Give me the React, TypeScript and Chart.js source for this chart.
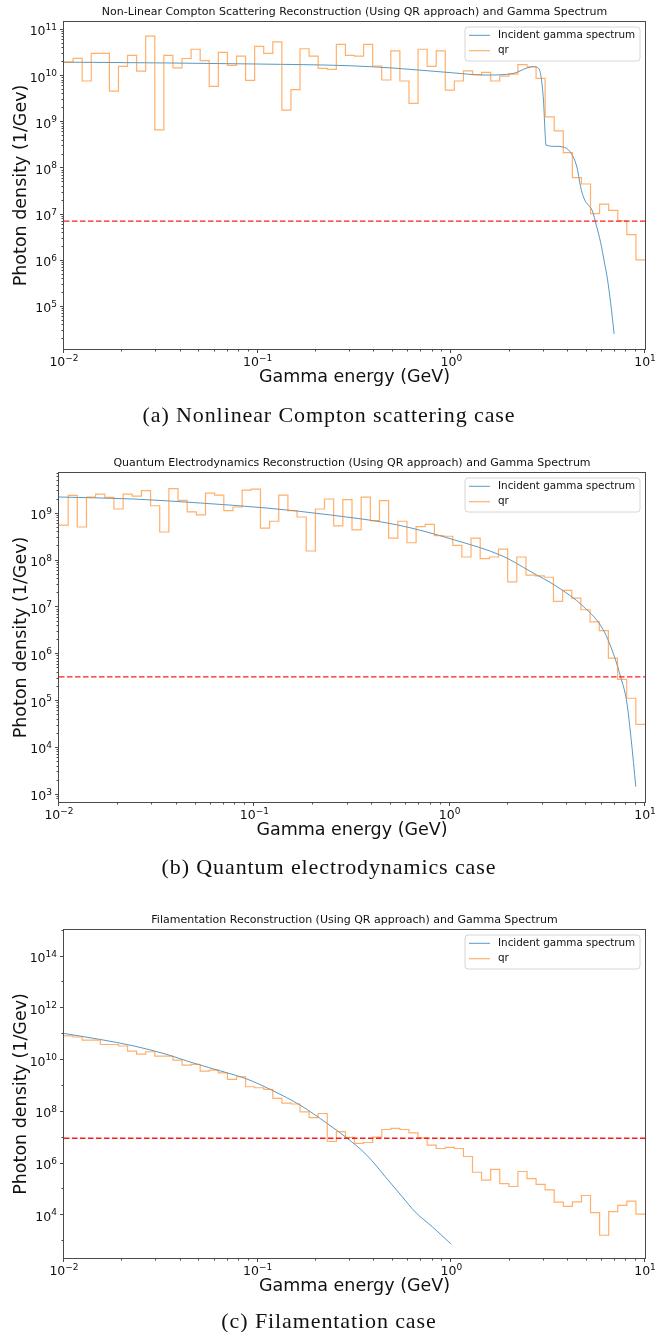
import React, { useEffect, useRef } from "react";
import { Chart, registerables } from "chart.js";

Chart.register(...registerables);

// ---------- shared axis definition ----------
const ENERGY_MIN = 0.01;
const ENERGY_MAX = 10;
const BIN_COUNT = 64;
const X_TICK_EXPONENTS = [-2, -1, 0, 1];

const LABEL_X = "Gamma energy (GeV)";
const LABEL_Y = "Photon density (1/Gev)";
const LEGEND_SPECTRUM = "Incident gamma spectrum";
const LEGEND_QR = "qr";

// ---------- (a) Nonlinear Compton scattering ----------
const titleCompton = "Non-Linear Compton Scattering Reconstruction (Using QR approach) and Gamma Spectrum";
const captionCompton = "(a) Nonlinear Compton scattering case";
const qrCompton = [
  1.98e10, 2.42e10, 7.8e9, 3.1e10, 3.1e10, 4.7e9, 1.62e10, 2.8e10, 1.28e10, 7.3e10,
  6.8e8, 2.8e10, 1.5e10, 2.4e10, 3.8e10, 2.15e10, 5.96e9, 3.25e10, 1.7e10, 2.7e10,
  8.05e9, 4.4e10, 3.1e10, 5.5e10, 1.82e9, 5.1e9, 3.9e10, 2.7e10, 1.47e10, 1.4e10,
  4.87e10, 2.8e10, 2.7e10, 4.87e10, 1.65e10, 8.2e9, 3.5e10, 7.8e9, 2.55e9, 3.8e10,
  1.62e10, 3.5e10, 4.97e9, 7.8e9, 1.3e10, 1.07e10, 1.2e10, 7.8e9, 1.0e10, 1.1e10,
  1.76e10, 1.59e10, 8.9e9, 1.3e9, 6.5e8, 2.2e8, 6.3e7, 4.6e7, 1.05e7, 1.68e7,
  1.24e7, 7.3e6, 3.7e6, 1.05e6,
];
const spectrumComptonEnergy = [
  0.01, 0.034, 0.1, 0.3, 0.5, 1.0, 1.5, 2.09, 2.45, 2.65, 2.76, 2.87, 2.99, 3.05, 3.08,
  3.5, 3.78, 4.1, 4.45, 4.65, 4.85, 5.1, 5.35, 5.6, 5.9, 6.15, 6.4, 6.65, 6.93,
];
const spectrumComptonDensity = [
  2.0e10, 1.92e10, 1.82e10, 1.67e10, 1.49e10, 1.18e10, 1.05e10, 1.14e10, 1.49e10, 1.6e10, 1.55e10, 1.25e10, 3.0e9, 5.6e8, 3.2e8,
  3.0e8, 2.9e8, 2.3e8, 1.07e8, 4.0e7, 2.2e7, 1.6e7, 1.2e7, 6.0e6, 2.5e6, 1.0e6, 4.0e5, 1.2e5, 2.6e4,
];
const thresholdCompton = 7.2e6;
const yExpCompton = [5, 6, 7, 8, 9, 10, 11];

// ---------- (b) Quantum electrodynamics ----------
const titleQed = "Quantum Electrodynamics Reconstruction (Using QR approach) and Gamma Spectrum";
const captionQed = "(b) Quantum electrodynamics case";
const qrQed = [
  5.7e8, 2.46e9, 5.2e8, 2.27e9, 2.63e9, 2.23e9, 1.26e9, 2.63e9, 2.38e9, 3.1e9,
  1.48e9, 4.07e8, 3.42e9, 1.93e9, 1.09e9, 9.4e8, 2.76e9, 2.5e9, 1.16e9, 1.39e9,
  3.2e9, 3.36e9, 4.9e8, 6.9e8, 2.5e9, 1.16e9, 8.5e8, 1.6e8, 1.26e9, 2.06e9,
  5.5e8, 2.0e9, 4.5e8, 2.27e9, 7.1e8, 1.9e9, 3.0e8, 6.9e8, 2.4e8, 5.3e8,
  5.9e8, 3.4e8, 3.3e8, 2.1e8, 1.19e8, 3.0e8, 1.1e8, 1.19e8, 1.76e8, 3.5e7,
  1.19e8, 4.9e7, 4.7e7, 4.4e7, 1.34e7, 2.3e7, 1.58e7, 8.9e6, 4.9e6, 3.2e6,
  8.3e5, 2.9e5, 1.15e5, 3.2e4,
];
const spectrumQedEnergy = [
  0.01, 0.024, 0.053, 0.116, 0.245, 0.536, 1.045, 1.88, 2.58, 3.53, 4.83, 6.12, 7.0, 7.5, 8.05, 8.5, 8.97,
];
const spectrumQedDensity = [
  2.27e9, 2.06e9, 1.69e9, 1.32e9, 9.4e8, 5.8e8, 2.8e8, 1.23e8, 5.9e7, 2.8e7, 1.05e7, 3.3e6, 8.5e5, 3.3e5, 1.0e5, 1.5e4, 1.5e3,
];
const thresholdQed = 3.3e5;
const yExpQed = [3, 4, 5, 6, 7, 8, 9];

// ---------- (c) Filamentation ----------
const titleFil = "Filamentation Reconstruction (Using QR approach) and Gamma Spectrum";
const captionFil = "(c) Filamentation case";
const qrFil = [
  8.7e10, 7.8e10, 5.9e10, 5.9e10, 4.0e10, 4.0e10, 3.5e10, 2.2e10, 1.7e10, 2.1e10,
  1.43e10, 1.43e10, 1.0e10, 6.4e9, 6.8e9, 3.75e9, 4.1e9, 3.2e9, 1.79e9, 2.27e9,
  9.3e8, 8.5e8, 7.3e8, 3.3e8, 2.16e8, 2.0e8, 1.0e8, 6.0e7, 8.6e7, 7.1e6,
  1.7e7, 1.02e7, 6.0e6, 6.5e6, 1.05e7, 2.07e7, 2.27e7, 2.07e7, 1.53e7, 9.8e6,
  5.1e6, 3.8e6, 4.2e6, 3.8e6, 1.87e6, 4.6e5, 2.26e5, 5.9e5, 1.68e5, 1.29e5,
  4.9e5, 2.6e5, 1.55e5, 9.6e4, 3.2e4, 2.2e4, 3.3e4, 5.8e4, 1.26e4, 1.68e3,
  1.38e4, 2.4e4, 3.5e4, 1.1e4,
];
const spectrumFilEnergy = [
  0.01, 0.0153, 0.0228, 0.034, 0.0448, 0.0696, 0.0865, 0.12, 0.166, 0.229, 0.284, 0.366, 0.469, 0.56, 0.65, 0.8, 1.0,
];
const spectrumFilDensity = [
  1.07e11, 6.3e10, 3.55e10, 1.65e10, 8.4e9, 3.2e9, 1.95e9, 6.5e8, 1.8e8, 3.5e7, 1.07e7, 2.1e6, 2.4e5, 5.0e4, 1.35e4, 3.5e3, 7.5e2,
];
const thresholdFil = 9.5e6;
const yExpFil = [4, 6, 8, 10, 12, 14];

// ---------- styling ----------
const FONT = '"DejaVu Sans", Verdana, sans-serif';
const BLUE = "rgba(31,119,180,0.75)";
const ORANGE = "rgba(255,127,14,0.62)";
const RED = "#ff1a1a";
const AXIS = "#4a4a4a";
const TEXT = "#111";
const PAGE_W = 658;
const TICK_SIZE = 12.5;
const SUP_SIZE = 9;
const SUP_RAISE = 5.5;

type Panel = {
  top: number;
  height: number;
  plot: { left: number; right: number; top: number; bottom: number };
  yMin: number;
  yMax: number;
  yExp: number[];
  yMinorSubs: boolean;
  title: string;
  caption: string;
  captionY: number;
  qr: number[];
  specE: number[];
  specV: number[];
  threshold: number;
};

const panels: Panel[] = [
  {
    top: 0, height: 425,
    plot: { left: 64, right: 645, top: 22, bottom: 349 },
    yMin: Math.pow(10, 4.09), yMax: Math.pow(10, 11.17),
    yExp: yExpCompton, yMinorSubs: true,
    title: titleCompton, caption: captionCompton, captionY: 415,
    qr: qrCompton, specE: spectrumComptonEnergy, specV: spectrumComptonDensity, threshold: thresholdCompton,
  },
  {
    top: 430, height: 425,
    plot: { left: 59, right: 645, top: 43, bottom: 372 },
    yMin: Math.pow(10, 2.846), yMax: Math.pow(10, 9.869),
    yExp: yExpQed, yMinorSubs: true,
    title: titleQed, caption: captionQed, captionY: 867,
    qr: qrQed, specE: spectrumQedEnergy, specV: spectrumQedDensity, threshold: thresholdQed,
  },
  {
    top: 880, height: 425,
    plot: { left: 64, right: 645, top: 50, bottom: 378 },
    yMin: Math.pow(10, 2.346), yMax: Math.pow(10, 15.03),
    yExp: yExpFil, yMinorSubs: false,
    title: titleFil, caption: captionFil, captionY: 1321,
    qr: qrFil, specE: spectrumFilEnergy, specV: spectrumFilDensity, threshold: thresholdFil,
  },
];

function drawPow(ctx: CanvasRenderingContext2D, exp: number, x: number, baseY: number, align: "center" | "right") {
  const base = "10";
  const sup = exp < 0 ? "\u2212" + Math.abs(exp) : String(exp);
  ctx.font = `${TICK_SIZE}px ${FONT}`;
  const wb = ctx.measureText(base).width;
  ctx.font = `${SUP_SIZE}px ${FONT}`;
  const ws = ctx.measureText(sup).width;
  const total = wb + ws;
  const x0 = align === "center" ? x - total / 2 : x - total;
  ctx.textAlign = "left";
  ctx.textBaseline = "alphabetic";
  ctx.font = `${TICK_SIZE}px ${FONT}`;
  ctx.fillText(base, x0, baseY);
  ctx.font = `${SUP_SIZE}px ${FONT}`;
  ctx.fillText(sup, x0 + wb, baseY - SUP_RAISE);
}

function decorPlugin(p: Panel) {
  return {
    id: "mplDecor",
    afterDraw(chart: any) {
      const ctx: CanvasRenderingContext2D = chart.ctx;
      const a = chart.chartArea;
      const xs = chart.scales.x;
      const ys = chart.scales.y;
      ctx.save();
      ctx.strokeStyle = AXIS;
      ctx.fillStyle = TEXT;
      ctx.lineWidth = 1;
      // spines
      ctx.strokeRect(a.left - 0.5, a.top - 0.5, a.right - a.left + 1, a.bottom - a.top + 1);
      // x ticks
      ctx.beginPath();
      for (let e = -2; e <= 1; e++) {
        const px = Math.round(xs.getPixelForValue(Math.pow(10, e))) - 0.5;
        ctx.moveTo(px, a.bottom);
        ctx.lineTo(px, a.bottom + 4);
        if (e < 1) {
          for (let m = 2; m <= 9; m++) {
            const q = Math.round(xs.getPixelForValue(m * Math.pow(10, e))) - 0.5;
            ctx.moveTo(q, a.bottom);
            ctx.lineTo(q, a.bottom + 2.5);
          }
        }
      }
      // y ticks
      const lo = Math.floor(Math.log10(p.yMin));
      const hi = Math.ceil(Math.log10(p.yMax));
      for (let e = lo; e <= hi; e++) {
        const v = Math.pow(10, e);
        const major = p.yExp.indexOf(e) >= 0;
        if (v >= p.yMin && v <= p.yMax) {
          const py = Math.round(ys.getPixelForValue(v)) - 0.5;
          ctx.moveTo(a.left, py);
          ctx.lineTo(a.left - (major ? 4 : 2.5), py);
        }
        if (p.yMinorSubs) {
          for (let m = 2; m <= 9; m++) {
            const mv = m * v;
            if (mv < p.yMin || mv > p.yMax) continue;
            const q = Math.round(ys.getPixelForValue(mv)) - 0.5;
            ctx.moveTo(a.left, q);
            ctx.lineTo(a.left - 2.5, q);
          }
        }
      }
      ctx.stroke();
      // tick labels
      for (const e of X_TICK_EXPONENTS) {
        drawPow(ctx, e, xs.getPixelForValue(Math.pow(10, e)), a.bottom + 17, "center");
      }
      for (const e of p.yExp) {
        drawPow(ctx, e, a.left - 7, ys.getPixelForValue(Math.pow(10, e)) + 5.5, "right");
      }
      // title
      ctx.textAlign = "center";
      ctx.textBaseline = "middle";
      ctx.font = `11px ${FONT}`;
      ctx.fillText(p.title, (a.left + a.right) / 2, a.top - 9.5);
      // axis labels
      ctx.font = `17.5px ${FONT}`;
      ctx.fillText(LABEL_X, (a.left + a.right) / 2, a.bottom + 28);
      ctx.save();
      ctx.translate(21, (a.top + a.bottom) / 2);
      ctx.rotate(-Math.PI / 2);
      ctx.fillText(LABEL_Y, 0, 0);
      ctx.restore();
      // legend
      const lx = a.right - 180;
      const ly = a.top + 5;
      const lw = 175;
      const lh = 34;
      const r = 3;
      ctx.beginPath();
      ctx.moveTo(lx + r, ly);
      ctx.arcTo(lx + lw, ly, lx + lw, ly + lh, r);
      ctx.arcTo(lx + lw, ly + lh, lx, ly + lh, r);
      ctx.arcTo(lx, ly + lh, lx, ly, r);
      ctx.arcTo(lx, ly, lx + lw, ly, r);
      ctx.closePath();
      ctx.fillStyle = "rgba(255,255,255,0.8)";
      ctx.fill();
      ctx.strokeStyle = "#d6d6d6";
      ctx.stroke();
      const entries = [
        { label: LEGEND_SPECTRUM, color: BLUE, w: 1, y: ly + 8.3 },
        { label: LEGEND_QR, color: ORANGE, w: 1.2, y: ly + 23.7 },
      ];
      ctx.font = `10.4px ${FONT}`;
      ctx.textAlign = "left";
      ctx.textBaseline = "middle";
      for (const en of entries) {
        ctx.strokeStyle = en.color;
        ctx.lineWidth = en.w;
        ctx.beginPath();
        ctx.moveTo(lx + 4, en.y);
        ctx.lineTo(lx + 25, en.y);
        ctx.stroke();
        ctx.fillStyle = TEXT;
        ctx.fillText(en.label, lx + 33, en.y);
      }
      ctx.restore();
    },
  };
}

function SpectrumPanel({ p }: { p: Panel }) {
  const ref = useRef<HTMLCanvasElement | null>(null);
  useEffect(() => {
    const canvas = ref.current;
    if (!canvas) return;
    const edges = Array.from({ length: BIN_COUNT + 1 }, (_, k) =>
      ENERGY_MIN * Math.pow(ENERGY_MAX / ENERGY_MIN, k / BIN_COUNT)
    );
    const stepData = p.qr.map((v, k) => ({ x: edges[k], y: v }));
    stepData.push({ x: edges[BIN_COUNT], y: p.qr[p.qr.length - 1] });
    const specData = p.specE.map((e, i) => ({ x: e, y: p.specV[i] }));
    const H = p.height;
    const chart = new Chart(canvas, {
      type: "line",
      data: {
        datasets: [
          {
            label: "threshold",
            data: [
              { x: ENERGY_MIN, y: p.threshold },
              { x: ENERGY_MAX, y: p.threshold },
            ],
            borderColor: RED,
            borderWidth: 1.3,
            borderDash: [5.5, 2.5],
            pointRadius: 0,
            order: 0,
          },
          {
            label: LEGEND_QR,
            data: stepData,
            stepped: "before",
            borderColor: ORANGE,
            borderWidth: 1.2,
            pointRadius: 0,
            order: 1,
          },
          {
            label: LEGEND_SPECTRUM,
            data: specData,
            borderColor: BLUE,
            borderWidth: 1,
            pointRadius: 0,
            cubicInterpolationMode: "monotone",
            order: 2,
          },
        ],
      },
      options: {
        animation: false,
        responsive: false,
        devicePixelRatio: 1,
        events: [],
        layout: {
          autoPadding: false,
          padding: { left: 0, right: PAGE_W - p.plot.right, top: p.plot.top, bottom: 0 },
        },
        plugins: {
          legend: { display: false },
          tooltip: { enabled: false },
          title: { display: false },
        },
        scales: {
          x: {
            type: "logarithmic",
            position: "bottom",
            min: ENERGY_MIN,
            max: ENERGY_MAX,
            grid: { display: false },
            border: { display: false },
            ticks: { display: false },
            afterFit: (s: any) => {
              s.height = H - p.plot.bottom;
            },
          },
          y: {
            type: "logarithmic",
            position: "left",
            min: p.yMin,
            max: p.yMax,
            grid: { display: false },
            border: { display: false },
            ticks: { display: false },
            afterFit: (s: any) => {
              s.width = p.plot.left;
            },
          },
        },
      } as any,
      plugins: [decorPlugin(p)],
    });
    return () => chart.destroy();
  }, [p]);
  return (
    <canvas
      ref={ref}
      width={PAGE_W}
      height={p.height}
      style={{ position: "absolute", left: 0, top: p.top, width: PAGE_W, height: p.height }}
    />
  );
}

export default function App() {
  return (
    <div
      style={{
        position: "absolute",
        left: 0,
        top: 0,
        width: PAGE_W,
        height: 1332,
        background: "#fff",
        overflow: "hidden",
      }}
    >
      {panels.map((p, i) => (
        <React.Fragment key={i}>
          <SpectrumPanel p={p} />
          <div
            style={{
              position: "absolute",
              left: 0,
              width: PAGE_W,
              top: p.captionY - 14,
              height: 28,
              lineHeight: "28px",
              textAlign: "center",
              fontFamily: '"Liberation Serif", "Times New Roman", serif',
              fontSize: 22,
              letterSpacing: "0.9px",
              color: "#111",
              whiteSpace: "nowrap",
            }}
          >
            {p.caption}
          </div>
        </React.Fragment>
      ))}
    </div>
  );
}
